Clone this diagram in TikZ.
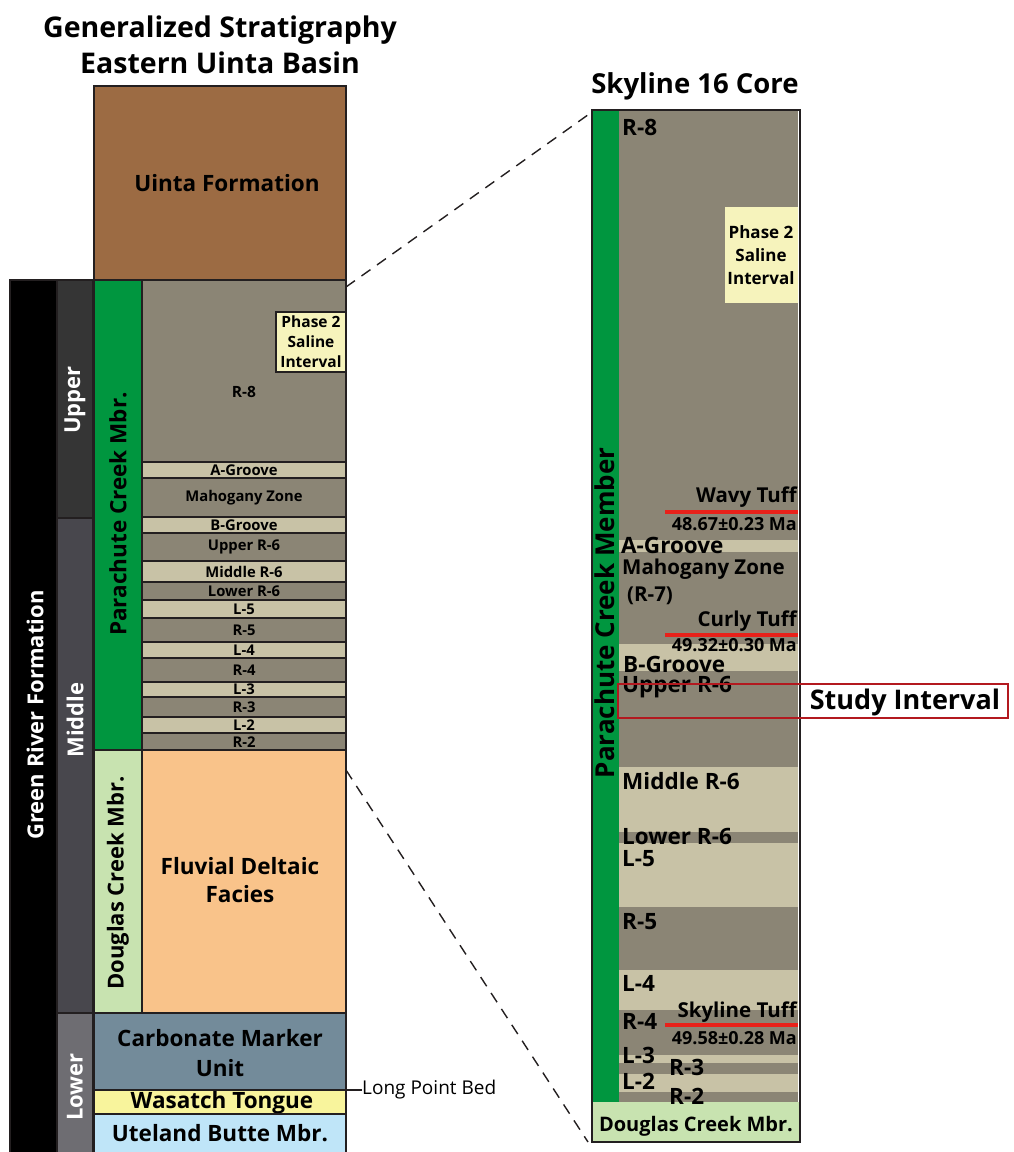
\documentclass[tikz,border=0pt]{standalone}
\usepackage{fontspec}
\setmainfont{Open Sans}
\usetikzlibrary{positioning}

\definecolor{uinta}{RGB}{156,107,67}
\definecolor{rdark}{RGB}{139,133,117}
\definecolor{rlight}{RGB}{200,194,166}
\definecolor{pcgreen}{RGB}{0,150,63}
\definecolor{dcgreen}{RGB}{200,227,176}
\definecolor{fluvial}{RGB}{249,195,138}
\definecolor{carbo}{RGB}{115,139,154}
\definecolor{wasatch}{RGB}{248,244,156}
\definecolor{uteland}{RGB}{191,229,248}
\definecolor{saline}{RGB}{246,243,188}
\definecolor{upperc}{RGB}{53,53,53}
\definecolor{middlec}{RGB}{72,71,77}
\definecolor{lowerc}{RGB}{110,109,114}
\definecolor{edge}{RGB}{35,31,32}
\definecolor{tuffred}{RGB}{232,33,26}
\definecolor{studyred}{RGB}{179,25,31}

\tikzset{
  unit/.style={draw=edge,line width=1.3pt},
  title/.style={font=\bfseries\fontsize{28.5}{36}\selectfont,align=center,inner sep=0pt},
  bigl/.style={font=\bfseries\fontsize{22.5}{30}\selectfont,align=center,inner sep=0pt},
  vlbl/.style={font=\bfseries\fontsize{22}{26}\selectfont,rotate=90,inner sep=0pt},
  band/.style={font=\bfseries\fontsize{14.8}{15}\selectfont,inner sep=0pt},
  core/.style={font=\bfseries\fontsize{22.5}{24}\selectfont,inner sep=0pt},
  age/.style={font=\bfseries\fontsize{18}{19}\selectfont,inner sep=0pt,anchor=east},
  tuff/.style={tuffred,line width=4pt},
  zoomline/.style={edge,line width=1.4pt,dash pattern=on 11pt off 8pt},
}

\begin{document}
\begin{tikzpicture}[x=1pt,y=-1pt]
\useasboundingbox (0,0) rectangle (1013,1152);
\clip (0,0) rectangle (1013,1152);

% left column: generalized stratigraphy
\node[title] (gentitle) at (220,45) {Generalized Stratigraphy\\Eastern Uinta Basin};
\filldraw[unit,fill=uinta] (94,86) rectangle (346,280);
\node[bigl] (uinta) at (227,183) {Uinta Formation};

\filldraw[unit,fill=black] (10,280) rectangle (57,1160);
\filldraw[unit,fill=upperc] (57,280) rectangle (93,518);
\filldraw[unit,fill=middlec] (57,518) rectangle (93,1013);
\filldraw[unit,fill=lowerc] (57,1013) rectangle (93,1160);
\node[vlbl,white] (grf) at (35,715) {Green River Formation};
\node[vlbl,white] (upper) at (75,400) {Upper};
\node[vlbl,white] (middle) at (75,720) {Middle};
\node[vlbl,white] (lower) at (75,1087) {Lower};

\filldraw[unit,fill=pcgreen] (94,280) rectangle (142,750);
\filldraw[unit,fill=dcgreen] (94,750) rectangle (142,1013);
\node[vlbl,font=\bfseries\fontsize{22.5}{26}\selectfont] (pcmbr) at (118,514) {Parachute Creek Mbr.};
\node[vlbl] (dcmbr) at (118,883) {Douglas Creek Mbr.};

\filldraw[unit,fill=rdark] (142,280) rectangle (346,462);
\filldraw[unit,fill=rlight] (142,462) rectangle (346,478);
\filldraw[unit,fill=rdark] (142,478) rectangle (346,517);
\filldraw[unit,fill=rlight] (142,517) rectangle (346,533);
\filldraw[unit,fill=rdark] (142,533) rectangle (346,561);
\filldraw[unit,fill=rlight] (142,561) rectangle (346,582);
\filldraw[unit,fill=rdark] (142,582) rectangle (346,600);
\filldraw[unit,fill=rlight] (142,600) rectangle (346,618);
\filldraw[unit,fill=rdark] (142,618) rectangle (346,642);
\filldraw[unit,fill=rlight] (142,642) rectangle (346,658);
\filldraw[unit,fill=rdark] (142,658) rectangle (346,682);
\filldraw[unit,fill=rlight] (142,682) rectangle (346,697);
\filldraw[unit,fill=rdark] (142,697) rectangle (346,717);
\filldraw[unit,fill=rlight] (142,717) rectangle (346,733);
\filldraw[unit,fill=rdark] (142,733) rectangle (346,750);

\filldraw[unit,fill=saline] (276,312) rectangle (346,372);
\node[band,font=\bfseries\fontsize{15.5}{20}\selectfont,align=center] (salineL) at (311,342) {Phase 2\\Saline\\Interval};
\node[band,font=\bfseries\fontsize{15.5}{16}\selectfont] (r8L) at (244,392) {R-8};
\node[band] (agL) at (244,470) {A-Groove};
\node[band] (mzL) at (244,498) {Mahogany Zone};
\node[band] (bgL) at (244,525) {B-Groove};
\node[band] (ur6L) at (244,547) {Upper R-6};
\node[band] (mr6L) at (244,572) {Middle R-6};
\node[band] (lr6L) at (244,591) {Lower R-6};
\node[band] (l5L) at (244,609) {L-5};
\node[band] (r5L) at (244,630) {R-5};
\node[band] (l4L) at (244,650) {L-4};
\node[band] (r4L) at (244,670) {R-4};
\node[band] (l3L) at (244,689) {L-3};
\node[band] (r3L) at (244,707) {R-3};
\node[band] (l2L) at (244,725) {L-2};
\node[band] (r2L) at (244,742) {R-2};

\filldraw[unit,fill=fluvial] (142,750) rectangle (346,1013);
\node[bigl,font=\bfseries\fontsize{22.5}{28}\selectfont] (fluv) at (240,880) {Fluvial Deltaic\\Facies};
\filldraw[unit,fill=carbo] (94,1013) rectangle (346,1090);
\node[bigl] (carb) at (220,1053) {Carbonate Marker\\Unit};
\filldraw[unit,fill=wasatch] (94,1090) rectangle (346,1114);
\node[bigl] (wasa) at (222,1103) {Wasatch Tongue};
\filldraw[unit,fill=uteland] (94,1114) rectangle (346,1160);
\node[bigl] (utel) at (220,1133) {Uteland Butte Mbr.};

\coordinate (lpb) at (346,1090);
\node[font=\fontsize{19}{20}\selectfont,inner sep=0pt,anchor=west] (lpbL) at (362,1090) {Long Point Bed};
\draw[edge,line width=2pt] (lpb) -- (lpbL.west);

% right column: Skyline 16 core
\node[font=\bfseries\fontsize{27.5}{28}\selectfont,inner sep=0pt] (coretitle) at (695,86) {Skyline 16 Core};
\fill[rdark] (619,110) rectangle (798,1102);
\fill[rlight] (619,540) rectangle (798,552);
\fill[rlight] (619,644) rectangle (798,671);
\fill[rlight] (619,767) rectangle (798,832);
\fill[rlight] (619,843) rectangle (798,907);
\fill[rlight] (619,970) rectangle (798,1010);
\fill[rlight] (619,1055) rectangle (798,1063);
\fill[rlight] (619,1074) rectangle (798,1092);
\fill[pcgreen] (592,110) rectangle (619,1102);
\fill[dcgreen] (592,1102) rectangle (800,1142);
\fill[saline] (725,207) rectangle (798,303);
\draw[unit] (592,110) rectangle (800,1142);

\node[vlbl,font=\bfseries\fontsize{26}{28}\selectfont] (pcmember) at (605,613) {Parachute Creek Member};
\node[font=\bfseries\fontsize{17}{23}\selectfont,align=center,inner sep=0pt] (salineR) at (761,255) {Phase 2\\Saline\\Interval};

\node[core,anchor=west] (r8R) at (622,127) {R-8};
\node[core,font=\bfseries\fontsize{20.5}{22}\selectfont,anchor=east] (wavy) at (797,497) {Wavy Tuff};
\draw[tuff] (665,512) -- (798,512);
\node[age] (wavyage) at (797,524) {48.67±0.23 Ma};
\node[core,anchor=west] (agR) at (621,545) {A-Groove};
\node[core,font=\bfseries\fontsize{20.5}{22}\selectfont,anchor=west] (mzR) at (622,569) {Mahogany Zone};
\node[core,font=\bfseries\fontsize{20.5}{22}\selectfont,anchor=west] (r7R) at (627,596) {(R-7)};
\node[core,font=\bfseries\fontsize{20.5}{22}\selectfont,anchor=east] (curly) at (797,621) {Curly Tuff};
\draw[tuff] (665,635) -- (798,635);
\node[age] (curlyage) at (797,645) {49.32±0.30 Ma};
\node[core,anchor=west] (bgR) at (623,664) {B-Groove};
\node[core,anchor=west] (ur6R) at (622,687) {Upper R-6};
\node[core,anchor=west] (mr6R) at (622,781) {Middle R-6};
\node[core,anchor=west] (lr6R) at (622,836) {Lower R-6};
\node[core,anchor=west] (l5R) at (622,859) {L-5};
\node[core,anchor=west] (r5R) at (622,922) {R-5};
\node[core,anchor=west] (l4R) at (622,983) {L-4};
\node[core,anchor=west] (r4R) at (622,1021) {R-4};
\node[core,font=\bfseries\fontsize{20.5}{22}\selectfont,anchor=east] (skyline) at (797,1012) {Skyline Tuff};
\draw[tuff] (665,1025) -- (798,1025);
\node[age] (skyage) at (797,1038) {49.58±0.28 Ma};
\node[core,anchor=west] (l3R) at (622,1055) {L-3};
\node[core,anchor=west] (r3R) at (669,1067) {R-3};
\node[core,anchor=west] (l2R) at (622,1081) {L-2};
\node[core,anchor=west] (r2R) at (669,1096) {R-2};
\node[core,font=\bfseries\fontsize{20}{22}\selectfont] (dcR) at (696,1126) {Douglas Creek Mbr.};

\draw[studyred,line width=2.5pt] (618,684) rectangle (1008,718);
\node[font=\bfseries\fontsize{27}{28}\selectfont,inner sep=0pt] (study) at (905,702) {Study Interval};

% zoom lines
\coordinate (lt) at (346,287);
\coordinate (rt) at (592,112);
\coordinate (lb) at (346,770);
\coordinate (rb) at (588,1142);
\draw[zoomline] (lt) -- (rt);
\draw[zoomline] (lb) -- (rb);
\end{tikzpicture}
\end{document}
